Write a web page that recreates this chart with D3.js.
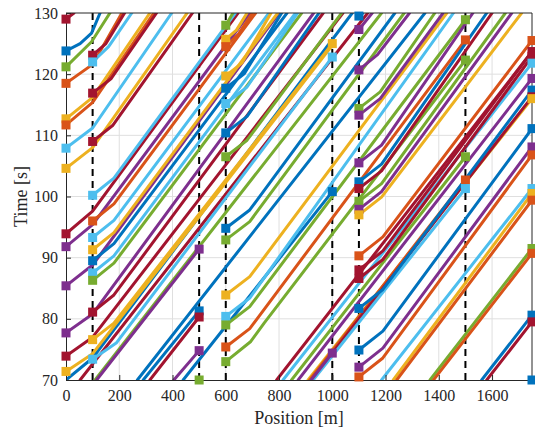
<!DOCTYPE html>
<html>
<head>
<meta charset="utf-8">
<script src="https://cdn.jsdelivr.net/npm/d3@7"></script>
<style>
  body { margin: 0; background: #fff; }
  text { font-family: "Liberation Serif", "DejaVu Serif", serif; fill: #262626; }
</style>
</head>
<body>
<script>
// MATLAB default line colours
var palette = ["#0072BD", "#D95319", "#EDB120", "#7E2F8E", "#77AC30", "#4DBEEE", "#A2142F"];

var xTicks = [0, 200, 400, 600, 800, 1000, 1200, 1400, 1600];
var yTicks = [70, 80, 90, 100, 110, 120, 130];
var rampPositions = [100, 500, 600, 1000, 1100, 1500];

// trajectories: [colour index, [[position m, time s], ...]]
var fromOrigin = [
  [6, [[0, 129.0], [30, 130]]],
  [0, [[0, 123.8], [53, 125.0], [96, 126.7], [128, 130]]],
  [4, [[0, 121.2], [96, 125.3], [165, 130]]],
  [1, [[0, 118.5], [100, 121.6], [210, 130]]],
  [2, [[0, 112.7], [100, 116.2], [315, 130]]],
  [1, [[0, 111.7], [100, 115.4], [330, 130]]],
  [5, [[0, 107.9], [100, 111.2], [397, 130]]],
  [2, [[0, 104.6], [100, 108.0], [455, 130]]],
  [6, [[0, 93.9], [100, 97.6], [646, 130]]],
  [3, [[0, 91.8], [100, 95.4], [690, 130]]],
  [3, [[0, 85.4], [100, 88.8], [800, 130]]],
  [3, [[0, 77.7], [100, 80.8], [930, 130]]],
  [6, [[0, 73.9], [100, 77.0], [1040, 130]]],
  [2, [[0, 71.4], [100, 74.3], [1000, 124.7]]]
];

var fromRamp100 = [
  [6, [[100, 123.1], [150, 125.0], [220, 130]]],
  [5, [[100, 122.0], [160, 124.5], [247, 130]]],
  [6, [[100, 116.9], [170, 119.3], [340, 130]]],
  [6, [[100, 109.0], [175, 111.6], [475, 130]]],
  [5, [[100, 100.2], [180, 103.0], [636, 130]]],
  [1, [[100, 96.0], [180, 98.8], [712, 130]]],
  [5, [[100, 93.3], [180, 96.1], [762, 130]]],
  [2, [[100, 91.3], [180, 94.1], [795, 130]]],
  [0, [[100, 89.5], [180, 92.3], [830, 130]]],
  [5, [[100, 87.5], [180, 90.3], [862, 130]]],
  [4, [[100, 86.3], [180, 89.1], [885, 130]]],
  [6, [[100, 81.1], [180, 83.9], [966, 130]]],
  [2, [[100, 76.6], [180, 79.3], [1000, 125.0]]],
  [5, [[100, 73.4], [190, 76.1], [1000, 122.8]]]
];

var fromRamp600 = [
  [4, [[600, 128.0], [627, 130]]],
  [2, [[600, 125.7], [640, 127.2], [680, 130]]],
  [1, [[600, 124.5], [650, 126.7], [700, 130]]],
  [2, [[600, 119.7], [660, 121.8], [770, 130]]],
  [0, [[600, 117.7], [670, 120.1], [810, 130]]],
  [5, [[600, 115.2], [680, 117.9], [870, 130]]],
  [0, [[600, 110.4], [680, 113.1], [950, 130]]],
  [4, [[600, 106.5], [680, 109.2], [1035, 130]]],
  [0, [[600, 94.8], [690, 97.8], [1235, 130]]],
  [4, [[600, 92.9], [690, 95.9], [1270, 130]]],
  [2, [[600, 83.9], [690, 86.9], [1430, 130]]],
  [5, [[600, 80.4], [690, 83.4], [1455, 130]]],
  [4, [[600, 79.0], [690, 82.0], [1500, 128.9]]],
  [1, [[600, 75.4], [690, 78.4], [1500, 125.6]]],
  [4, [[600, 73.0], [694, 76.3], [744, 79.3], [1500, 122.3]]]
];

var fromRamp1100 = [
  [0, [[1100, 129.5], [1115, 130]]],
  [3, [[1100, 127.3], [1150, 130]]],
  [3, [[1100, 120.7], [1170, 123.2], [1290, 130]]],
  [4, [[1100, 114.4], [1180, 117.1], [1385, 130]]],
  [3, [[1100, 113.3], [1180, 116.0], [1416, 130]]],
  [3, [[1100, 105.5], [1185, 108.4], [1528, 130]]],
  [0, [[1100, 102.4], [1185, 105.3], [1580, 130]]],
  [6, [[1100, 101.3], [1185, 104.2], [1600, 130]]],
  [4, [[1100, 99.2], [1185, 102.1], [1650, 130]]],
  [3, [[1100, 97.9], [1185, 100.8], [1674, 130]]],
  [2, [[1100, 97.0], [1185, 99.9], [1711, 130]]],
  [1, [[1100, 90.3], [1190, 93.4], [1750, 125.5]]],
  [6, [[1100, 88.0], [1190, 91.1], [1750, 123.7]]],
  [6, [[1100, 86.6], [1190, 89.7], [1750, 122.9]]],
  [0, [[1100, 81.7], [1190, 84.8], [1750, 117.4]]],
  [0, [[1100, 74.9], [1190, 78.0], [1750, 111.1]]],
  [3, [[1100, 72.1], [1190, 75.2], [1750, 108.1]]],
  [1, [[1100, 70.5], [1190, 73.6], [1750, 106.8]]]
];

// vehicles already on the road when the window opens
var fromBelow = [
  [0, [[0, 70.0], [100, 73.6], [1075, 130]]],
  [6, [[53, 70], [1133, 130]]],
  [4, [[109, 70], [1185, 130]]],
  [3, [[115, 70], [500, 91.4]]],
  [0, [[268, 70], [1348, 130]]],
  [0, [[290, 70], [500, 81.3]]],
  [6, [[315, 70], [500, 80.3]]],
  [3, [[405, 70], [500, 74.8]]],
  [0, [[440, 70], [1000, 100.8]]],
  [6, [[791, 70], [1750, 123.7]]],
  [5, [[815, 70], [1750, 121.8]]],
  [4, [[847, 70], [1500, 106.5]]],
  [3, [[872, 70], [1750, 119.3]]],
  [2, [[909, 70], [1750, 116.0]]],
  [1, [[915, 70], [1500, 102.7]]],
  [6, [[922, 70], [1750, 116.3]]],
  [5, [[928, 70], [1500, 101.3]]],
  [3, [[921, 70], [1000, 74.4]]],
  [5, [[1185, 70], [1750, 101.3]]],
  [2, [[1229, 70], [1750, 100.5]]],
  [1, [[1242, 70], [1750, 99.4]]],
  [4, [[1367, 70], [1750, 91.5]]],
  [1, [[1380, 70], [1750, 90.7]]],
  [0, [[1561, 70], [1750, 80.6]]],
  [6, [[1580, 70], [1750, 79.5]]]
];

// square markers where vehicles enter / leave: [position, time, colour index]
var entryMarkers = [
  [0, 129.0, 6], [0, 123.8, 0], [0, 121.2, 4], [0, 118.5, 1], [0, 112.7, 2], [0, 111.7, 1],
  [0, 107.9, 5], [0, 104.6, 2], [0, 93.9, 6], [0, 91.8, 3], [0, 85.4, 3], [0, 77.7, 3],
  [0, 73.9, 6], [0, 71.4, 2],
  [100, 123.1, 6], [100, 122.0, 5], [100, 116.9, 6], [100, 109.0, 6], [100, 100.2, 5],
  [100, 96.0, 1], [100, 93.3, 5], [100, 91.3, 2], [100, 89.5, 0], [100, 87.5, 5],
  [100, 86.3, 4], [100, 81.1, 6], [100, 76.6, 2], [100, 73.4, 5],
  [600, 128.0, 4], [600, 125.7, 2], [600, 124.5, 1], [600, 119.7, 2], [600, 117.7, 0],
  [600, 115.2, 5], [600, 110.4, 0], [600, 106.5, 4], [600, 94.8, 0], [600, 92.9, 4],
  [600, 83.9, 2], [600, 80.4, 5], [600, 79.0, 4], [600, 75.4, 1], [600, 73.0, 4],
  [1100, 129.5, 0], [1100, 127.3, 3], [1100, 120.7, 3], [1100, 114.4, 4], [1100, 113.3, 3],
  [1100, 105.5, 3], [1100, 102.4, 0], [1100, 101.3, 6], [1100, 99.2, 4], [1100, 97.9, 3],
  [1100, 97.0, 2], [1100, 90.3, 1], [1100, 88.0, 6], [1100, 86.6, 6], [1100, 81.7, 0],
  [1100, 74.9, 0], [1100, 72.1, 3], [1100, 70.5, 1]
];

var exitMarkers = [
  [500, 91.4, 3], [500, 81.3, 0], [500, 80.3, 6], [500, 74.8, 3], [500, 70.0, 4],
  [1000, 125.0, 2], [1000, 122.8, 5], [1000, 100.8, 0], [1000, 74.4, 3],
  [1500, 128.9, 4], [1500, 125.6, 1], [1500, 122.3, 4], [1500, 106.5, 4], [1500, 102.7, 1],
  [1500, 101.3, 5],
  [1750, 125.5, 1], [1750, 123.7, 6], [1750, 122.9, 6], [1750, 121.8, 5], [1750, 119.3, 3],
  [1750, 117.4, 0], [1750, 116.3, 6], [1750, 116.0, 2], [1750, 111.1, 0], [1750, 108.1, 3],
  [1750, 106.8, 1], [1750, 101.3, 5], [1750, 100.5, 2], [1750, 99.4, 1], [1750, 91.5, 4],
  [1750, 90.7, 1], [1750, 80.6, 0], [1750, 79.5, 6], [1750, 70.0, 0]
];

var width = 535;
var height = 435;
var mLeft = 66, mRight = 532, mTop = 13, mBottom = 380;

var svg = d3.select("body").append("svg")
    .attr("width", width)
    .attr("height", height);

var x = d3.scaleLinear().domain([0, 1750]).range([mLeft, mRight]);
var y = d3.scaleLinear().domain([70, 130]).range([mBottom, mTop]);

// grid
svg.append("g").selectAll("line")
    .data(xTicks.slice(1))
    .enter().append("line")
    .attr("x1", d => x(d)).attr("x2", d => x(d))
    .attr("y1", mTop).attr("y2", mBottom)
    .attr("stroke", "#dfdfdf").attr("stroke-width", 1);
svg.append("g").selectAll("line")
    .data(yTicks.slice(1, -1))
    .enter().append("line")
    .attr("x1", mLeft).attr("x2", mRight)
    .attr("y1", d => y(d)).attr("y2", d => y(d))
    .attr("stroke", "#dfdfdf").attr("stroke-width", 1);

// on/off ramp positions
svg.append("g").selectAll("line")
    .data(rampPositions)
    .enter().append("line")
    .attr("x1", d => x(d)).attr("x2", d => x(d))
    .attr("y1", mTop).attr("y2", mBottom)
    .attr("stroke", "#000").attr("stroke-width", 2)
    .attr("stroke-dasharray", "7,5");

svg.append("clipPath").attr("id", "plotClip")
  .append("rect")
    .attr("x", mLeft).attr("y", mTop)
    .attr("width", mRight - mLeft).attr("height", mBottom - mTop);

var line = d3.line()
    .x(d => x(d[0]))
    .y(d => y(d[1]));

var allTraj = fromBelow.concat(fromOrigin, fromRamp100, fromRamp600, fromRamp1100);

svg.append("g")
    .attr("clip-path", "url(#plotClip)")
  .selectAll("path")
    .data(allTraj)
    .enter().append("path")
    .attr("d", d => line(d[1]))
    .attr("fill", "none")
    .attr("stroke", d => palette[d[0]])
    .attr("stroke-width", 3)
    .attr("stroke-linejoin", "round")
    .attr("stroke-linecap", "round");

// axes
var xAxis = d3.axisBottom(x).tickValues(xTicks).tickFormat(d3.format("d"))
    .tickSizeInner(-5).tickSizeOuter(0).tickPadding(10);
var yAxis = d3.axisLeft(y).tickValues(yTicks).tickFormat(d3.format("d"))
    .tickSizeInner(-5).tickSizeOuter(0).tickPadding(8);

var gx = svg.append("g").attr("transform", "translate(0," + mBottom + ")").call(xAxis);
var gy = svg.append("g").attr("transform", "translate(" + mLeft + ",0)").call(yAxis);
[gx, gy].forEach(function(g) {
    g.select(".domain").attr("stroke", "#262626");
    g.selectAll(".tick line").attr("stroke", "#262626");
    g.selectAll(".tick text")
      .style("font-family", "'Liberation Serif', serif")
      .style("font-size", "16px")
      .attr("fill", "#262626");
});

// box top / right
svg.append("line").attr("x1", mLeft).attr("x2", mRight).attr("y1", mTop).attr("y2", mTop)
    .attr("stroke", "#262626").attr("stroke-width", 1);
svg.append("line").attr("x1", mRight).attr("x2", mRight).attr("y1", mTop).attr("y2", mBottom)
    .attr("stroke", "#262626").attr("stroke-width", 1);

// markers
var markers = entryMarkers.concat(exitMarkers);
svg.append("g").selectAll("rect")
    .data(markers)
    .enter().append("rect")
    .attr("x", d => x(d[0]) - 4.5)
    .attr("y", d => y(d[1]) - 4.5)
    .attr("width", 9).attr("height", 9)
    .attr("fill", d => palette[d[2]]);

svg.append("text")
    .attr("x", (mLeft + mRight) / 2)
    .attr("y", 424)
    .attr("text-anchor", "middle")
    .style("font-size", "18px")
    .text("Position [m]");

svg.append("text")
    .attr("transform", "translate(27," + ((mTop + mBottom) / 2) + ") rotate(-90)")
    .attr("text-anchor", "middle")
    .style("font-size", "18px")
    .text("Time [s]");
</script>
</body>
</html>
